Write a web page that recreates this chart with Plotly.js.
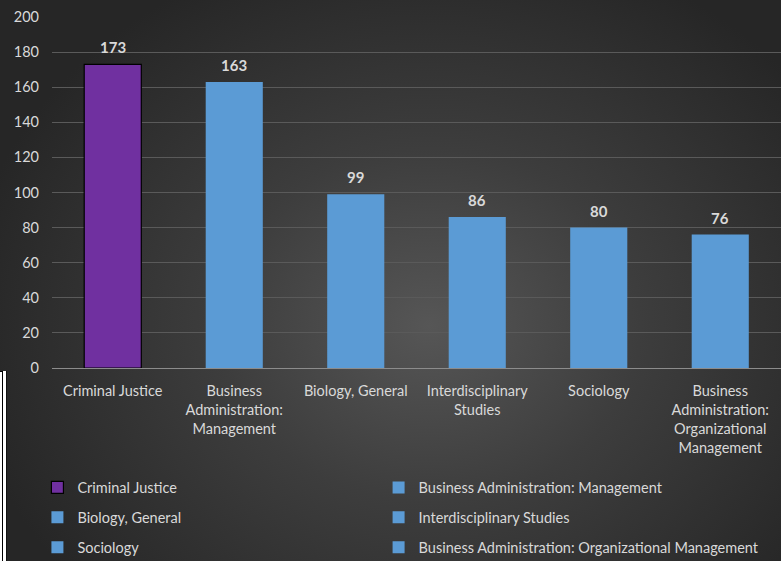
<!DOCTYPE html>
<html>
<head>
<meta charset="utf-8">
<script src="https://cdn.plot.ly/plotly-3.0.1.min.js"></script>
<style>
  html, body { margin:0; padding:0; background:#2a2a2a; }
  #wrap { position:relative; width:781px; height:561px; overflow:hidden;
    background: radial-gradient(ellipse 60% 70% at 55% 58%, #565656 0%, #3d3d3d 45%, #262626 100%); }
  #chart { position:absolute; left:0; top:0; width:781px; height:561px; }
  #edge { position:absolute; left:0; top:371px; width:7px; height:190px; background:#ffffff;
    border-right:1px solid #111; box-sizing:border-box; }
  #edge::before { content:''; position:absolute; left:2px; top:0; width:1px; height:190px; background:#000; }
  #edge::after { content:''; position:absolute; left:0; top:0; width:3px; height:1px; background:#000; }
</style>
</head>
<body>
<div id="wrap">
  <div id="chart"></div>
  <div id="edge"></div>
</div>
<script>
const categories = ["Criminal Justice", "Business Administration: Management", "Biology, General",
  "Interdisciplinary Studies", "Sociology", "Business Administration: Organizational Management"];
const tickLabels = ["Criminal Justice", "Business<br>Administration:<br>Management", "Biology, General",
  "Interdisciplinary<br>Studies", "Sociology", "Business<br>Administration:<br>Organizational<br>Management"];
const values = [173, 163, 99, 86, 80, 76];
const barColors = ["#7030a0", "#5b9bd5", "#5b9bd5", "#5b9bd5", "#5b9bd5", "#5b9bd5"];
const legendColumn = ["legend", "legend2", "legend", "legend2", "legend", "legend2"];

const FONT = "Lato, 'Noto Sans', sans-serif";
const TXT = "#d9d9d9";

const traces = categories.map((c, i) => ({
  type: "bar",
  name: c,
  x: [categories[i]],
  y: [values[i]],
  width: 0.47,
  marker: { color: barColors[i], line: { color: i === 0 ? "#000000" : barColors[i], width: i === 0 ? 1.2 : 0 } },
  legend: legendColumn[i],
  legendgroup: "g" + i,
  hoverinfo: "x+y"
}));

const valueLabels = categories.map((c, i) => ({
  x: categories[i], y: values[i], xref: "x", yref: "y",
  text: "<b>" + values[i] + "</b>",
  showarrow: false, yanchor: "bottom", yshift: 6,
  font: { family: FONT, size: 15, color: TXT }
}));

const legendCommon = {
  orientation: "v", tracegroupgap: 8,
  bgcolor: "rgba(0,0,0,0)",
  font: { family: FONT, size: 14.5, color: TXT },
  itemwidth: 30, xanchor: "left", yanchor: "top"
};

const layout = {
  width: 781, height: 561,
  margin: { l: 52, r: 0, t: 17, b: 193, autoexpand: false },
  paper_bgcolor: "rgba(0,0,0,0)",
  plot_bgcolor: "rgba(0,0,0,0)",
  barmode: "overlay",
  font: { family: FONT, size: 14, color: TXT },
  annotations: valueLabels,
  xaxis: {
    type: "category",
    categoryorder: "array",
    categoryarray: categories,
    tickmode: "array",
    tickvals: categories,
    ticktext: tickLabels,
    showline: true, linecolor: "#8c8c8c", linewidth: 1,
    ticks: "", showgrid: false,
    tickfont: { family: FONT, size: 14.5, color: TXT },
    ticklabelstandoff: 10,
    tickangle: 0,
    automargin: false
  },
  yaxis: {
    range: [0, 200], dtick: 20, tick0: 0,
    showgrid: true, gridcolor: "#5a5a5a", gridwidth: 1,
    zeroline: false, showline: false,
    ticks: "", ticklen: 0,
    tickfont: { family: FONT, size: 14.5, color: TXT },
    ticklabelstandoff: 12,
    automargin: false
  },
  legend: Object.assign({ x: -0.02, y: -0.295 }, legendCommon),
  legend2: Object.assign({ x: 0.448, y: -0.295 }, legendCommon),
  showlegend: true
};

Plotly.newPlot("chart", traces, layout, { displayModeBar: false, staticPlot: true });
</script>
</body>
</html>
